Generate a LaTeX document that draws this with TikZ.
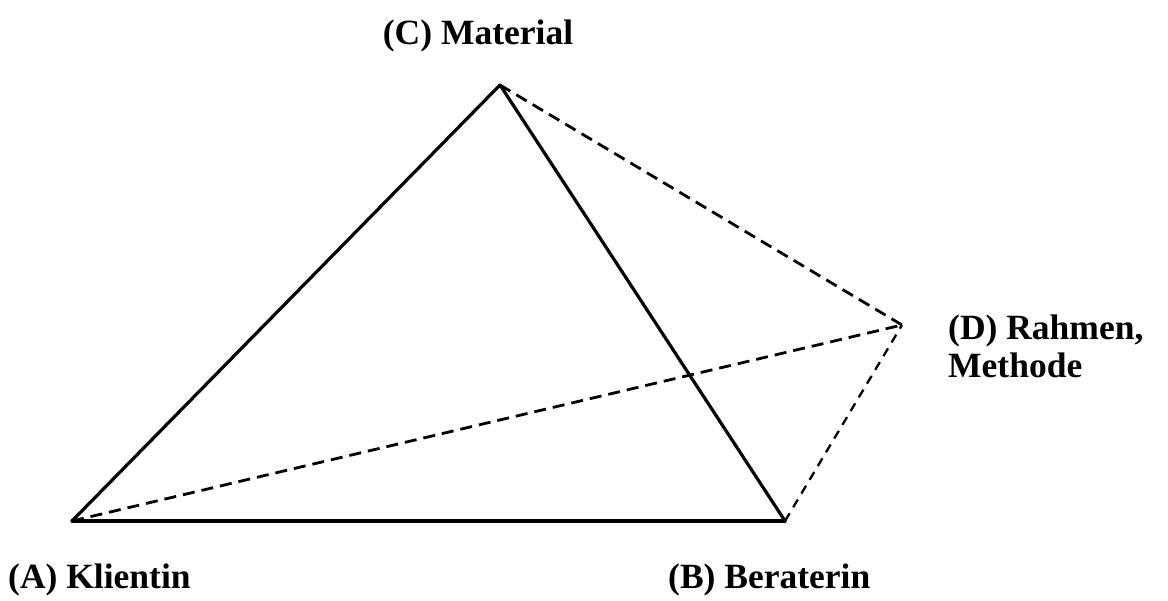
\documentclass[tikz,border=0pt]{standalone}
\usepackage{fontspec}
\setmainfont{Liberation Serif}
\usepackage{tikz}
\tikzset{
  edge/.style={line width=3.2pt, line cap=round, line join=round},
  dedge/.style={line width=2.8pt, dash pattern=on 12pt off 7pt},
  lbl/.style={font=\fontsize{35.5}{38}\selectfont\bfseries, inner sep=0pt},
}
\begin{document}
\begin{tikzpicture}[x=1pt, y=-1pt]
\useasboundingbox (0,0) rectangle (1168,601);
\coordinate (A) at (72,521);
\coordinate (B) at (785,521);
\coordinate (C) at (500,85);
\coordinate (D) at (902,325);
\node[lbl] (labC) at (478,36) {(C) Material};
\node[lbl, align=left, anchor=west] (labD) at (948,346) {(D) Rahmen,\\Methode};
\node[lbl, anchor=west] (labA) at (8,580) {(A) Klientin};
\node[lbl, anchor=west] (labB) at (668,580) {(B) Beraterin};
\draw[edge] (A) -- (B);
\draw[edge] (A) -- (C);
\draw[edge] (C) -- (B);
\draw[dedge] (C) -- (D);
\draw[dedge] (A) -- (D);
\draw[dedge, line width=2.3pt, dash pattern=on 9pt off 7pt] (B) -- (D);
\end{tikzpicture}
\end{document}
